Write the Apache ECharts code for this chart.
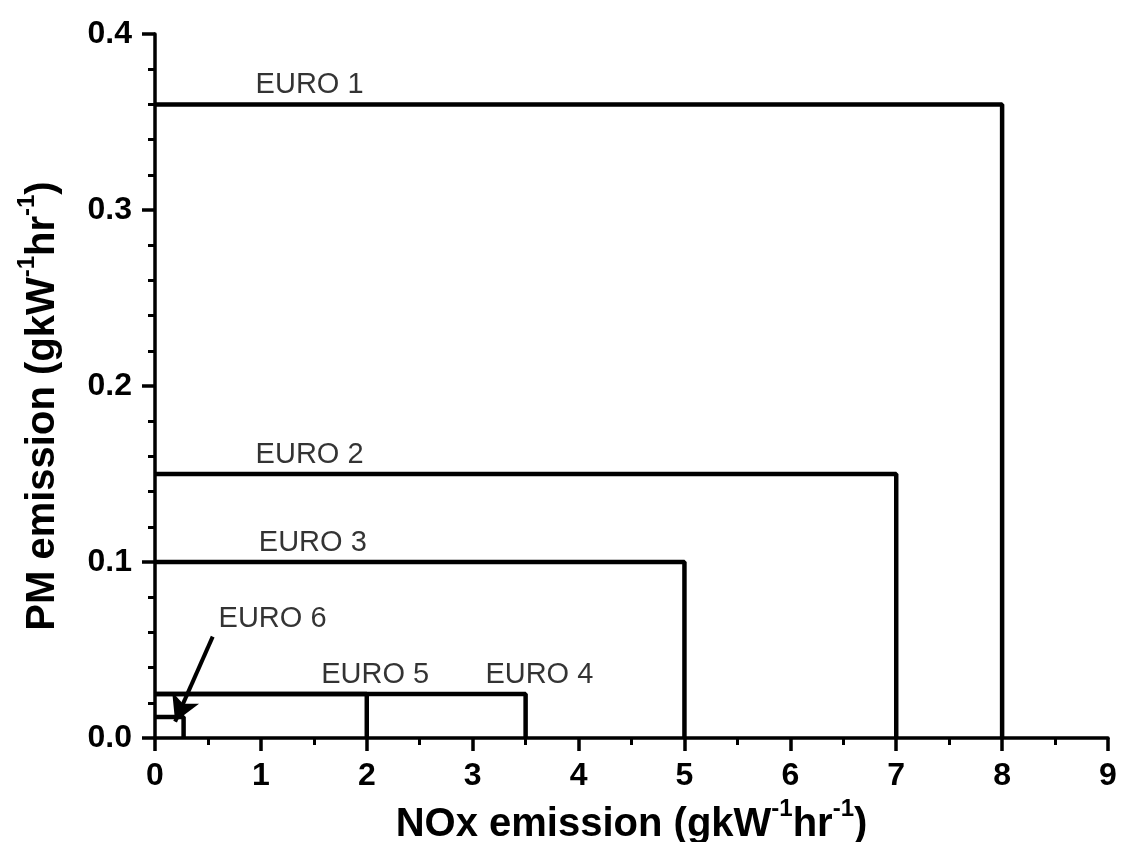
<!DOCTYPE html>
<html>
<head>
<meta charset="utf-8">
<script src="https://cdn.jsdelivr.net/npm/echarts@6/dist/echarts.min.js"></script>
<style>
  html, body { margin: 0; padding: 0; background: #fff; }
  #chart { width: 1121px; height: 842px; }
</style>
</head>
<body>
<div id="chart"></div>
<script>
// Emission limit steps: each standard is a box from the origin
const standards = ['EURO 1', 'EURO 2', 'EURO 3', 'EURO 4', 'EURO 5', 'EURO 6'];
const noxLimits = [8, 7, 5, 3.5, 2, 0.27];               // g/kWh
const pmLimits  = [0.36, 0.15, 0.1, 0.025, 0.025, 0.012]; // g/kWh

// Where each standard's name sits (x, y in data units)
const labelX = [1.46, 1.46, 1.49, 3.63, 2.08, 1.11];
const labelY = [0.36, 0.15, 0.1, 0.025, 0.025, 0.057];

// Pointer from the EURO 6 name to its small box
const arrowFrom = [0.545, 0.0576];
const arrowTo   = [0.19, 0.0093];

const xTicks = { min: 0, max: 9, step: 1 };
const yTicks = { min: 0, max: 0.4, step: 0.1 };

const FONT = 'Liberation Sans, Arial, sans-serif';
const INK = '#000';

const series = standards.map((name, i) => ({
  name,
  type: 'line',
  data: [[0, pmLimits[i]], [noxLimits[i], pmLimits[i]], [noxLimits[i], 0]],
  symbol: 'none',
  lineStyle: { color: INK, width: 4.5 },
  animation: false,
  silent: true,
  z: 3
}));

series.push({
  name: 'names',
  type: 'scatter',
  data: standards.map((s, i) => ({ value: [labelX[i], labelY[i]], name: s })),
  symbolSize: 1,
  itemStyle: { color: 'transparent' },
  label: {
    show: true,
    position: 'top',
    distance: 4,
    formatter: p => p.name,
    color: INK,
    fontFamily: FONT,
    fontSize: 29
  },
  animation: false,
  silent: true,
  z: 4,
  markLine: {
    silent: true,
    animation: false,
    symbol: ['none', 'arrow'],
    symbolSize: [22, 26],
    label: { show: false },
    lineStyle: { color: INK, width: 4, type: 'solid' },
    data: [[{ coord: arrowFrom }, { coord: arrowTo }]]
  }
});

const titleRich = {
  b: { fontFamily: FONT, fontWeight: 'bold', fontSize: 40, color: INK, lineHeight: 48, verticalAlign: 'bottom' },
  s: { fontFamily: FONT, fontWeight: 'bold', fontSize: 24, color: INK, lineHeight: 24, verticalAlign: 'top' }
};

const option = {
  backgroundColor: '#fff',
  grid: { left: 155, right: 13, top: 34, bottom: 104, containLabel: false, outerBoundsMode: 'none' },
  xAxis: {
    type: 'value',
    min: xTicks.min, max: xTicks.max, interval: xTicks.step,
    name: '{b|NOx emission (gkW}{s|-1}{b|hr}{s|-1}{b|)}',
    nameLocation: 'middle',
    nameGap: 53,
    nameTextStyle: { rich: titleRich, verticalAlign: 'top' },
    axisLine: { lineStyle: { color: INK, width: 3.5 } },
    axisTick: { length: 13, lineStyle: { color: INK, width: 3.5 } },
    minorTick: { show: true, splitNumber: 2, length: 7, lineStyle: { color: INK, width: 3 } },
    splitLine: { show: false },
    axisLabel: { color: INK, fontFamily: FONT, fontWeight: 'bold', fontSize: 32, margin: 22 }
  },
  yAxis: {
    type: 'value',
    min: yTicks.min, max: yTicks.max, interval: yTicks.step,
    name: '{b|PM emission (gkW}{s|-1}{b|hr}{s|-1}{b|)}',
    nameLocation: 'middle',
    nameGap: 92,
    nameTextStyle: { rich: titleRich, padding: [0, 40, 0, 0] },
    axisLine: { lineStyle: { color: INK, width: 3.5 } },
    axisTick: { length: 13, lineStyle: { color: INK, width: 3.5 } },
    minorTick: { show: true, splitNumber: 5, length: 7, lineStyle: { color: INK, width: 3 } },
    splitLine: { show: false },
    axisLabel: {
      color: INK, fontFamily: FONT, fontWeight: 'bold', fontSize: 32, margin: 23,
      formatter: v => v.toFixed(1)
    }
  },
  series
};

const chart = echarts.init(document.getElementById('chart'), null, { renderer: 'canvas' });
chart.setOption(option);
</script>
</body>
</html>
